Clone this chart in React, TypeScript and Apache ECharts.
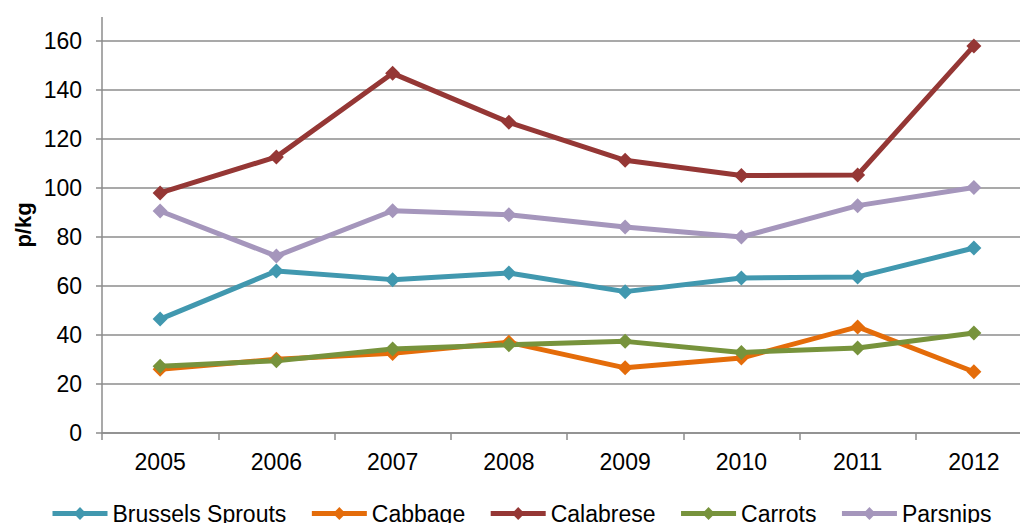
import React, { useEffect, useRef } from "react";
import * as echarts from "echarts";

const years = ["2005", "2006", "2007", "2008", "2009", "2010", "2011", "2012"];
const brusselsSprouts = [46.5, 66.1, 62.6, 65.3, 57.7, 63.3, 63.7, 75.5];
const cabbage = [26.0, 30.1, 32.5, 37.0, 26.6, 30.6, 43.3, 25.0];
const calabrese = [98.0, 112.7, 146.8, 126.8, 111.3, 105.1, 105.3, 158.0];
const carrots = [27.2, 29.5, 34.3, 36.0, 37.4, 32.9, 34.7, 40.8];
const parsnips = [90.6, 72.2, 90.7, 89.1, 84.1, 80.0, 92.8, 100.2];

const seriesNames = ["Brussels Sprouts", "Cabbage", "Calabrese", "Carrots", "Parsnips"];
const seriesData = [brusselsSprouts, cabbage, calabrese, carrots, parsnips];
const seriesColors = ["#4198AF", "#E46C0A", "#953735", "#77933C", "#A596BC"];

const FONT = "'Liberation Sans', Arial, sans-serif";
const AXIS_GRAY = "#8C8C8C";

export default function App() {
  const ref = useRef<HTMLDivElement>(null);

  useEffect(() => {
    if (!ref.current) return;
    const chart = echarts.init(ref.current, undefined, { renderer: "svg" });
    chart.setOption({
      animation: false,
      backgroundColor: "#ffffff",
      textStyle: { fontFamily: FONT },
      // plot area runs past the right edge of the visible frame
      grid: { left: 102, top: 41, height: 392, width: 930, containLabel: false },
      xAxis: {
        type: "category",
        data: years,
        boundaryGap: true,
        axisLine: { show: true, lineStyle: { color: AXIS_GRAY, width: 1.5 } },
        axisTick: { show: true, length: 7, alignWithLabel: false, lineStyle: { color: AXIS_GRAY, width: 1.5 } },
        axisLabel: { color: "#000", fontSize: 23, fontFamily: FONT, margin: 17 },
        splitLine: { show: false },
      },
      yAxis: {
        type: "value",
        min: 0,
        max: 160,
        interval: 20,
        axisLine: { show: true, lineStyle: { color: AXIS_GRAY, width: 1.5 } },
        axisTick: { show: true, length: 6, lineStyle: { color: AXIS_GRAY, width: 1.5 } },
        axisLabel: { color: "#000", fontSize: 23, fontFamily: FONT, margin: 20 },
        splitLine: { show: true, lineStyle: { color: AXIS_GRAY, width: 1.5 } },
      },
      legend: {
        show: true,
        left: 50,
        top: 502,
        padding: 0,
        itemWidth: 55,
        itemHeight: 16,
        itemGap: 23,
        lineStyle: { width: 5 },
        textStyle: { color: "#000", fontSize: 23, fontFamily: FONT },
        data: seriesNames,
      },
      graphic: [
        {
          type: "line",
          shape: { x1: 102, y1: 17, x2: 102, y2: 41 },
          style: { stroke: AXIS_GRAY, lineWidth: 1.5 },
        },
        {
          type: "text",
          x: 23,
          y: 225,
          rotation: Math.PI / 2,
          style: {
            text: "p/kg",
            font: `bold 22px ${FONT}`,
            fill: "#000",
            align: "center",
            verticalAlign: "middle",
          },
        },
      ],
      series: seriesNames.map((name, i) => ({
        name,
        type: "line",
        data: seriesData[i],
        symbol: "diamond",
        symbolSize: 15,
        showSymbol: true,
        color: seriesColors[i],
        lineStyle: { width: 5, color: seriesColors[i] },
        itemStyle: { color: seriesColors[i] },
        emphasis: { disabled: true },
      })),
    });
    return () => chart.dispose();
  }, []);

  return (
    <div
      style={{
        position: "fixed",
        left: 0,
        top: 0,
        width: 1020,
        height: 523,
        overflow: "hidden",
        background: "#fff",
      }}
    >
      <div ref={ref} style={{ width: 1040, height: 523 }} />
    </div>
  );
}
